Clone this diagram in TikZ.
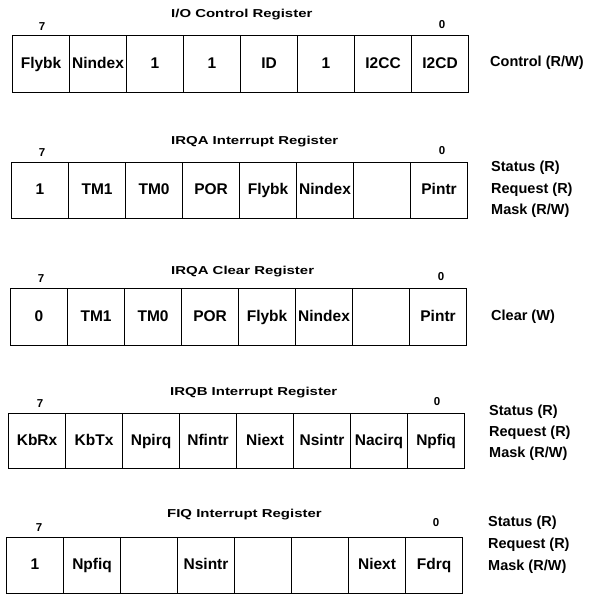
\documentclass[tikz,border=0pt]{standalone}
\usepackage{fontspec}
\setmainfont{Liberation Sans}
\newfontfamily\titlefont{Liberation Sans Bold}[FakeStretch=1.3]
\begin{document}
\begin{tikzpicture}[x=1pt,y=-1pt,
  cellbox/.style={draw,line width=1.1pt,minimum width=57pt,minimum height=#1,inner sep=0pt,anchor=north west,
    text height=11pt,text depth=3pt,font=\bfseries\fontsize{15.5}{18}\selectfont},
  regtitle/.style={anchor=west,inner sep=0pt,font=\titlefont\fontsize{11.5}{14}\selectfont},
  bitlabel/.style={inner sep=0pt,font=\bfseries\fontsize{11.5}{13}\selectfont},
  sidelabel/.style={anchor=west,inner sep=0pt,font=\bfseries\fontsize{14.5}{17}\selectfont}]
\useasboundingbox (0,0) rectangle (594,595);

% Row 1
\node[regtitle] (t1) at (171,15) {I/O Control Register};
\foreach \t [count=\i from 0] in {Flybk,Nindex,1,1,ID,1,I2CC,I2CD}
  \node[cellbox=57pt] (r1c\i) at (12+57*\i,35) {\t};
\node[bitlabel] (b1h) at (42,27) {7};
\node[bitlabel] (b1l) at (442,25) {0};
\node[sidelabel] (s1a) at (490,63) {Control (R/W)};

% Row 2
\node[regtitle] (t2) at (171,142) {IRQA Interrupt Register};
\foreach \t [count=\i from 0] in {1,TM1,TM0,POR,Flybk,Nindex,{},Pintr}
  \node[cellbox=56pt] (r2c\i) at (11+57*\i,162) {\t};
\node[bitlabel] (b2h) at (42,153) {7};
\node[bitlabel] (b2l) at (442,151) {0};
\node[sidelabel] (s2a) at (491,168) {Status (R)};
\node[sidelabel] (s2b) at (491,190) {Request (R)};
\node[sidelabel] (s2c) at (491,211) {Mask (R/W)};

% Row 3
\node[regtitle] (t3) at (171,272) {IRQA Clear Register};
\foreach \t [count=\i from 0] in {0,TM1,TM0,POR,Flybk,Nindex,{},Pintr}
  \node[cellbox=57pt] (r3c\i) at (10+57*\i,288) {\t};
\node[bitlabel] (b3h) at (41,279) {7};
\node[bitlabel] (b3l) at (441,277) {0};
\node[sidelabel] (s3a) at (491,317) {Clear (W)};

% Row 4
\node[regtitle] (t4) at (170,393) {IRQB Interrupt Register};
\foreach \t [count=\i from 0] in {KbRx,KbTx,Npirq,Nfintr,Niext,Nsintr,Nacirq,Npfiq}
  \node[cellbox=55pt] (r4c\i) at (8+57*\i,413) {\t};
\node[bitlabel] (b4h) at (40,404) {7};
\node[bitlabel] (b4l) at (437,402) {0};
\node[sidelabel] (s4a) at (489,412) {Status (R)};
\node[sidelabel] (s4b) at (489,433) {Request (R)};
\node[sidelabel] (s4c) at (489,454) {Mask (R/W)};

% Row 5
\node[regtitle] (t5) at (167,515) {FIQ Interrupt Register};
\foreach \t [count=\i from 0] in {1,Npfiq,{},Nsintr,{},{},Niext,Fdrq}
  \node[cellbox=56pt] (r5c\i) at (6+57*\i,537) {\t};
\node[bitlabel] (b5h) at (39,528) {7};
\node[bitlabel] (b5l) at (436,523) {0};
\node[sidelabel] (s5a) at (488,523) {Status (R)};
\node[sidelabel] (s5b) at (488,545) {Request (R)};
\node[sidelabel] (s5c) at (488,567) {Mask (R/W)};
\end{tikzpicture}
\end{document}
